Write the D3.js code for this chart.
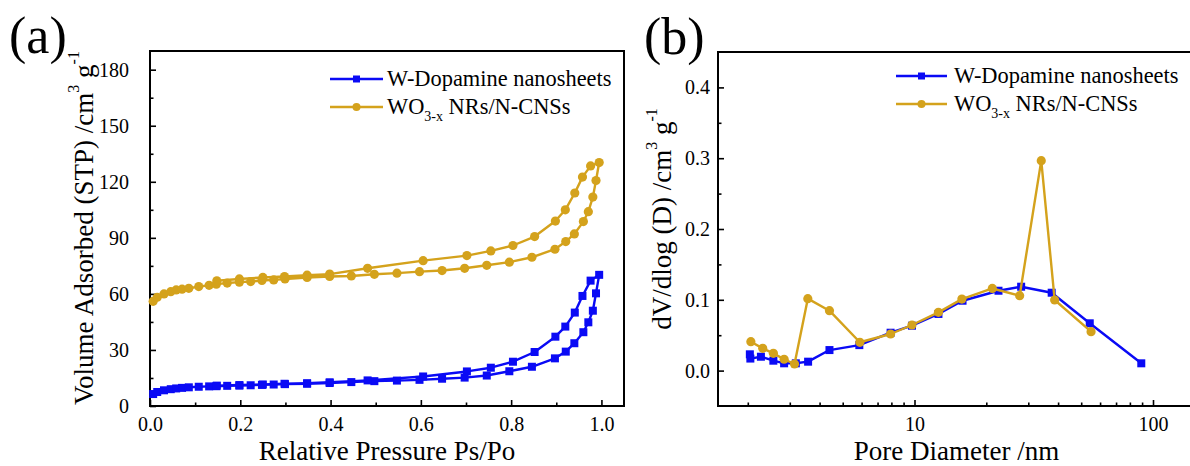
<!DOCTYPE html>
<html>
<head>
<meta charset="utf-8">
<script src="https://cdn.jsdelivr.net/npm/d3@7"></script>
<style>
  body { margin: 0; background: #fff; }
  svg { display: block; }
  text { font-family: "Liberation Serif", "Times New Roman", serif; fill: #000; }
</style>
</head>
<body>
<svg id="chart" width="1190" height="466"></svg>
<script>
// ---- (a) N2 adsorption–desorption isotherms ----
const pressureAds = [0.007, 0.016, 0.031, 0.046, 0.058, 0.071, 0.086, 0.108, 0.131, 0.147,
  0.171, 0.198, 0.223, 0.248, 0.274, 0.299, 0.348, 0.398, 0.446, 0.497,
  0.547, 0.597, 0.647, 0.697, 0.746, 0.796, 0.846, 0.897, 0.921, 0.940,
  0.960, 0.971, 0.981, 0.988, 0.995];
const wDopamineAds = [6.4, 7.5, 8.4, 9.0, 9.4, 9.7, 10.0, 10.3, 10.5, 10.6,
  10.8, 10.9, 11.1, 11.3, 11.5, 11.7, 11.9, 12.3, 12.8, 13.3,
  13.6, 14.0, 14.6, 15.2, 16.3, 18.6, 21.0, 25.5, 29.1, 33.6,
  39.5, 44.8, 51.0, 60.3, 70.2];
const wo3Ads = [56.0, 58.2, 60.0, 61.2, 62.1, 62.5, 63.0, 63.9, 64.6, 65.2,
  65.8, 66.3, 66.6, 67.2, 67.5, 68.0, 68.8, 69.3, 69.6, 70.5,
  71.1, 71.9, 72.5, 73.7, 75.3, 77.0, 79.6, 83.9, 88.0, 92.1,
  98.7, 104.0, 111.8, 120.7, 130.3];

const pressureDes = [0.976, 0.958, 0.941, 0.920, 0.898, 0.852, 0.804, 0.755, 0.702, 0.605,
  0.482, 0.398, 0.348, 0.298, 0.250, 0.198, 0.148];
const wDopamineDes = [67.1, 58.9, 50.0, 42.5, 37.1, 28.9, 23.7, 20.5, 18.5, 15.8,
  13.7, 12.7, 12.2, 11.9, 11.5, 11.2, 10.9];
const wo3Des = [128.5, 122.5, 114.0, 105.0, 99.0, 90.7, 85.9, 83.0, 80.5, 77.8,
  73.7, 70.6, 70.0, 69.3, 68.8, 68.0, 67.0];

const isoMajorX = [0, 0.2, 0.4, 0.6, 0.8, 1.0];
const isoMinorX = [0.1, 0.3, 0.5, 0.7, 0.9];
const isoMajorY = [0, 30, 60, 90, 120, 150, 180];
const isoMinorY = [15, 45, 75, 105, 135, 165];

// ---- (b) pore size distribution ----
const poreDiamW = [2.04, 2.05, 2.27, 2.56, 2.84, 3.18, 3.58, 4.4, 5.87, 7.94,
  9.76, 12.6, 15.9, 22.5, 28.0, 37.6, 54.3, 89.3];
const poreVolW = [0.023, 0.017, 0.0196, 0.014, 0.0103, 0.0103, 0.0126, 0.029, 0.036, 0.0535,
  0.0634, 0.080, 0.0987, 0.1128, 0.1185, 0.110, 0.0668, 0.0103];
const poreDiamWO = [2.06, 2.31, 2.56, 2.84, 3.14, 3.57, 4.4, 5.9, 7.94, 9.76,
  12.6, 15.8, 21.2, 27.6, 34.0, 38.7, 55.0];
const poreVolWO = [0.0408, 0.0314, 0.0244, 0.016, 0.0093, 0.1016, 0.0846, 0.040, 0.0517, 0.0644,
  0.0823, 0.101, 0.116, 0.1058, 0.2965, 0.0997, 0.055];

const psdMajorX = [10, 100];
const psdMinorX = [2, 3, 4, 5, 6, 7, 8, 9, 20, 30, 40, 50, 60, 70, 80, 90];
const psdMajorY = [0, 0.1, 0.2, 0.3, 0.4];
const psdMinorY = [0.05, 0.15, 0.25, 0.35];

const seriesNames = ["W-Dopamine nanosheets", "WO", "3-x", " NRs/N-CNSs"];

const SERIF = '"Liberation Serif", "Times New Roman", serif';
const BLUE = "#0A0AF5";
const GOLD = "#D4A21C";
const svg = d3.select("#chart");

// ---------- helpers ----------
function axes(g, x, y, box, o) {
  // inward major/minor ticks on bottom and left, plus frame
  const bottomMajor = d3.axisBottom(x).tickValues(o.majorX).tickSizeInner(-6).tickSizeOuter(0).tickFormat(o.fmtX);
  const bottomMinor = d3.axisBottom(x).tickValues(o.minorX).tickSizeInner(-3.5).tickSizeOuter(0).tickFormat("");
  const leftMajor = d3.axisLeft(y).tickValues(o.majorY).tickSizeInner(-6).tickSizeOuter(0).tickFormat(o.fmtY).tickPadding(o.padY);
  const leftMinor = d3.axisLeft(y).tickValues(o.minorY).tickSizeInner(-3.5).tickSizeOuter(0).tickFormat("");

  [[bottomMinor, "b"], [bottomMajor, "b"], [leftMinor, "l"], [leftMajor, "l"]].forEach(([a, side]) => {
    const ga = g.append("g")
      .attr("transform", side === "b" ? `translate(0,${box.bottom})` : `translate(${box.left},0)`)
      .call(a)
      .attr("font-family", SERIF)
      .attr("font-size", 20);
    ga.select(".domain").remove();
    ga.selectAll("line").attr("stroke", "#000").attr("stroke-width", 1.6);
    ga.selectAll("text").attr("fill", "#000")
      .attr("font-family", SERIF).attr("font-size", 20);
    if (side === "b") ga.selectAll("text").attr("y", 25).attr("dy", null);
  });

  g.append("rect")
    .attr("x", box.left).attr("y", box.top)
    .attr("width", box.right - box.left).attr("height", box.bottom - box.top)
    .attr("fill", "none").attr("stroke", "#000").attr("stroke-width", 2);
}

function series(g, x, y, pts, color, shape) {
  const line = d3.line().x(d => x(d[0])).y(d => y(d[1]));
  g.append("path").attr("d", line(pts))
    .attr("fill", "none").attr("stroke", color).attr("stroke-width", 2.4)
    .attr("stroke-linejoin", "round");
  if (shape === "square") {
    g.selectAll(null).data(pts).join("rect")
      .attr("x", d => x(d[0]) - 4).attr("y", d => y(d[1]) - 4)
      .attr("width", 8).attr("height", 8).attr("fill", color);
  } else {
    g.selectAll(null).data(pts).join("circle")
      .attr("cx", d => x(d[0])).attr("cy", d => y(d[1]))
      .attr("r", 4.6).attr("fill", color);
  }
}

function legend(g, x0, x1, textX, rows) {
  rows.forEach(r => {
    g.append("line").attr("x1", x0).attr("x2", x1).attr("y1", r.y).attr("y2", r.y)
      .attr("stroke", r.color).attr("stroke-width", 2.4);
    const cx = (x0 + x1) / 2;
    if (r.shape === "square") {
      g.append("rect").attr("x", cx - 3.5).attr("y", r.y - 3.5).attr("width", 7).attr("height", 7).attr("fill", r.color);
    } else {
      g.append("circle").attr("cx", cx).attr("cy", r.y).attr("r", 4).attr("fill", r.color);
    }
    const t = g.append("text").attr("x", textX).attr("y", r.y + 7).style("font-size", "22.4px");
    r.parts.forEach(p => {
      const s = t.append("tspan").text(p.t);
      if (p.sub) s.attr("dy", 7).style("font-size", "14px");
      if (p.back) s.attr("dy", -7);
    });
  });
}

function yTitle(g, x, y, main) {
  const t = g.append("text")
    .attr("transform", `translate(${x},${y}) rotate(-90)`)
    .attr("text-anchor", "middle").style("font-size", "27px");
  t.append("tspan").text(main + " /cm");
  t.append("tspan").attr("dy", -14).style("font-size", "16px").text("3");
  t.append("tspan").attr("dy", 14).text(" g");
  t.append("tspan").attr("dy", -14).style("font-size", "16px").text("-1");
}

const legendRows = (y1, y2) => [
  { y: y1, color: BLUE, shape: "square", parts: [{ t: seriesNames[0] }] },
  { y: y2, color: GOLD, shape: "circle", parts: [{ t: seriesNames[1] }, { t: seriesNames[2], sub: true }, { t: seriesNames[3], back: true }] }
];

// ---------- panel (a) ----------
const boxA = { left: 150, right: 624, top: 51, bottom: 406 };
const xA = d3.scaleLinear().domain([0, 1.05]).range([boxA.left, boxA.right]);
const yA = d3.scaleLinear().domain([0, 190]).range([boxA.bottom, boxA.top]);
const gA = svg.append("g");

axes(gA, xA, yA, boxA, {
  majorX: isoMajorX, minorX: isoMinorX, majorY: isoMajorY, minorY: isoMinorY,
  fmtX: d3.format(".1f"), fmtY: d3.format("d"), padY: 21
});

const loop = (ads, des) => pressureAds.map((p, i) => [p, ads[i]])
  .concat(pressureDes.map((p, i) => [p, des[i]]));
series(gA, xA, yA, loop(wDopamineAds, wDopamineDes), BLUE, "square");
series(gA, xA, yA, loop(wo3Ads, wo3Des), GOLD, "circle");

legend(gA, 330, 383, 387, legendRows(79, 107));

gA.append("text").attr("x", (boxA.left + boxA.right) / 2).attr("y", 460)
  .attr("text-anchor", "middle").style("font-size", "27px").text("Relative Pressure Ps/Po");
yTitle(gA, 93, 228, "Volume Adsorbed (STP)");
gA.append("text").attr("x", 9).attr("y", 53).style("font-size", "52px").text("(a)");

// ---------- panel (b) ----------
const boxB = { left: 718, right: 1195, top: 52, bottom: 406 };
const xB = d3.scaleLog().domain([1.5, 150]).range([boxB.left, boxB.right]);
const yB = d3.scaleLinear().domain([-0.05, 0.45]).range([boxB.bottom, boxB.top]);
const gB = svg.append("g");

axes(gB, xB, yB, boxB, {
  majorX: psdMajorX, minorX: psdMinorX, majorY: psdMajorY, minorY: psdMinorY,
  fmtX: d3.format("d"), fmtY: d3.format(".1f"), padY: 8
});

series(gB, xB, yB, poreDiamW.map((d, i) => [d, poreVolW[i]]), BLUE, "square");
series(gB, xB, yB, poreDiamWO.map((d, i) => [d, poreVolWO[i]]), GOLD, "circle");

legend(gB, 896, 947, 954, legendRows(76, 104));

gB.append("text").attr("x", (boxB.left + boxB.right) / 2).attr("y", 460)
  .attr("text-anchor", "middle").style("font-size", "27px").text("Pore Diameter /nm");
yTitle(gB, 671, 219, "dV/dlog (D)");
gB.append("text").attr("x", 644).attr("y", 54).style("font-size", "52px").text("(b)");
</script>
</body>
</html>
